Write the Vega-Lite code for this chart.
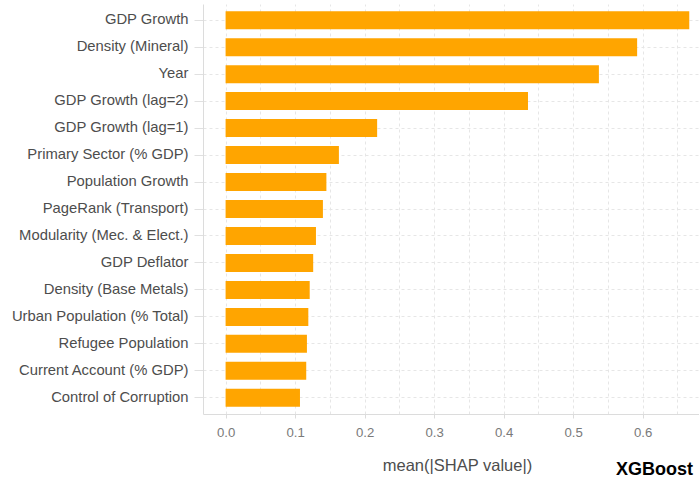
{
  "$schema": "https://vega.github.io/schema/vega-lite/v6.json",
  "width": 496,
  "height": 410,
  "autosize": {"type": "none"},
  "padding": {"left": 203, "top": 4, "right": 0, "bottom": 66},
  "background": "white",
  "config": {
    "view": {"stroke": null},
    "font": "Liberation Sans"
  },
  "title": {
    "text": "XGBoost",
    "orient": "bottom",
    "anchor": "end",
    "font": "Liberation Sans",
    "fontSize": 18,
    "fontWeight": "bold",
    "color": "black",
    "offset": -13,
    "dx": -6
  },
  "data": {
    "values": [
      {"feature": "GDP Growth", "shap": 0.667},
      {"feature": "Density (Mineral)", "shap": 0.592},
      {"feature": "Year", "shap": 0.537},
      {"feature": "GDP Growth (lag=2)", "shap": 0.435},
      {"feature": "GDP Growth (lag=1)", "shap": 0.218},
      {"feature": "Primary Sector (% GDP)", "shap": 0.163},
      {"feature": "Population Growth", "shap": 0.145},
      {"feature": "PageRank (Transport)", "shap": 0.140},
      {"feature": "Modularity (Mec. & Elect.)", "shap": 0.130},
      {"feature": "GDP Deflator", "shap": 0.126},
      {"feature": "Density (Base Metals)", "shap": 0.121},
      {"feature": "Urban Population (% Total)", "shap": 0.119},
      {"feature": "Refugee Population", "shap": 0.117},
      {"feature": "Current Account (% GDP)", "shap": 0.116},
      {"feature": "Control of Corruption", "shap": 0.107}
    ]
  },
  "mark": {"type": "bar", "color": "#FFA500"},
  "encoding": {
    "y": {
      "field": "feature",
      "type": "nominal",
      "sort": null,
      "scale": {"paddingInner": 0.3333, "paddingOuter": 0.267},
      "axis": {
        "title": null,
        "labelFontSize": 14.8,
        "labelColor": "#4d4d4d",
        "labelPadding": 6,
        "tickSize": 9,
        "tickColor": "#e0e0e0",
        "domain": true,
        "domainColor": "#dcdcdc",
        "grid": true,
        "gridColor": "#e6e6e6",
        "gridDash": [3, 3]
      }
    },
    "x": {
      "field": "shap",
      "type": "quantitative",
      "scale": {"domain": [-0.0325, 0.681], "nice": false, "zero": false},
      "axis": {
        "title": "mean(|SHAP value|)",
        "titleFontSize": 16.5,
        "titleFontWeight": "normal",
        "titleColor": "#4d4d4d",
        "titlePadding": 19,
        "titleX": 254,
        "titleAlign": "center",
        "values": [0, 0.05, 0.1, 0.15, 0.2, 0.25, 0.3, 0.35, 0.4, 0.45, 0.5, 0.55, 0.6, 0.65],
        "labelExpr": "round(datum.value*20) % 2 == 0 ? format(datum.value, '.1f') : ''",
        "labelFontSize": 13.2,
        "labelColor": "#7a7a7a",
        "labelPadding": 8,
        "tickSize": 4,
        "tickColor": "#dcdcdc",
        "tickOpacity": {"condition": {"test": "round(datum.value*20) % 2 == 0", "value": 1}, "value": 0},
        "domain": true,
        "domainColor": "#dcdcdc",
        "grid": true,
        "gridColor": "#e6e6e6",
        "gridDash": [3, 3]
      }
    }
  }
}
